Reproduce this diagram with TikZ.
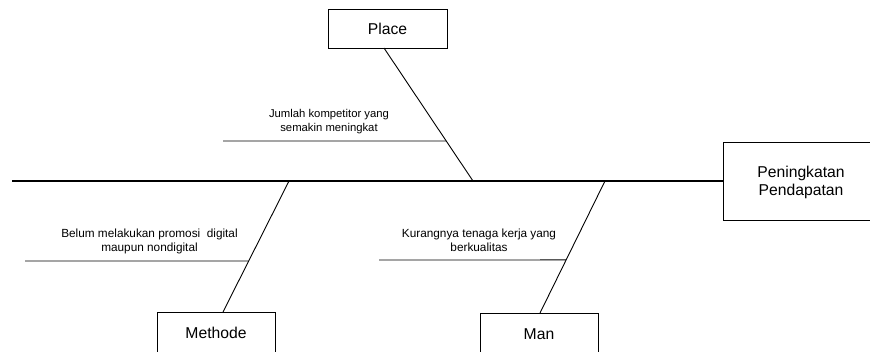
\documentclass[tikz,border=0pt]{standalone}
\usepackage{fontspec}
\setmainfont{Liberation Sans}
\usetikzlibrary{calc}
\begin{document}
\begin{tikzpicture}[x=1pt,y=-1pt,
  box/.style={draw, line width=0.9pt, rectangle, inner sep=0pt},
  boxtext/.style={align=center, inner sep=0pt, font=\fontsize{15.7}{18}\selectfont},
  bone/.style={line width=0.9pt},
  spine/.style={line width=2pt},
  cause/.style={align=center, inner sep=0pt, font=\fontsize{11.8}{14}\selectfont},
  causesmall/.style={align=center, inner sep=0pt, font=\fontsize{11.3}{13.5}\selectfont},
]
\useasboundingbox (0,0) rectangle (870,351);
\clip (0,0) rectangle (870,351);
\fill[white] (0,0) rectangle (870,351);
% boxes
\node[box, minimum width=154pt, minimum height=78pt] (effect) at (800,181) {};
\node[boxtext] (effecttext) at (801,182) {Peningkatan\\Pendapatan};
\node[box, minimum width=119pt, minimum height=39pt] (place) at (387.5,28.5) {};
\node[boxtext] (placetext) at (387.5,28.5) {Place};
\node[box, minimum width=118pt, minimum height=42pt] (methode) at (216,333) {};
\node[boxtext] (methodetext) at (216,333) {Methode};
\node[box, minimum width=118pt, minimum height=42pt] (man) at (539,334) {};
\node[boxtext] (mantext) at (539,334) {Man};
% spine
\coordinate (tail) at (12,181);
\draw[spine] (tail) -- (effect.west);
% main bones
\coordinate (pA) at (384,48);
\coordinate (pS) at (473,181);
\coordinate (mS) at (289,181);
\coordinate (mB) at (223,312);
\coordinate (nS) at (605,181);
\coordinate (nB) at (540,313);
\draw[bone] (pA) -- (pS);
\draw[bone] (mS) -- (mB);
\draw[bone] (nS) -- (nB);
% sub bones
\coordinate (pL) at (223,141);
\coordinate (pR) at ($(pA)!0.699!(pS)$);
\draw[bone] (pL) -- (pR);
\coordinate (mL) at (25,261);
\coordinate (mR) at ($(mS)!0.611!(mB)$);
\draw[bone] (mL) -- (mR);
\coordinate (nL) at (379,260);
\coordinate (nR) at ($(nS)!0.598!(nB)$);
\draw[bone] (nL) -- (nR);
% cause texts
\node[causesmall] (ptext) at (329,121.5) {Jumlah kompetitor yang\\semakin meningkat};
\node[cause] (mtext) at (149.5,241) {Belum melakukan promosi\ \ digital\\maupun nondigital};
\node[cause] (ntext) at (479,240) {Kurangnya tenaga kerja yang\\berkualitas};
\end{tikzpicture}
\end{document}
